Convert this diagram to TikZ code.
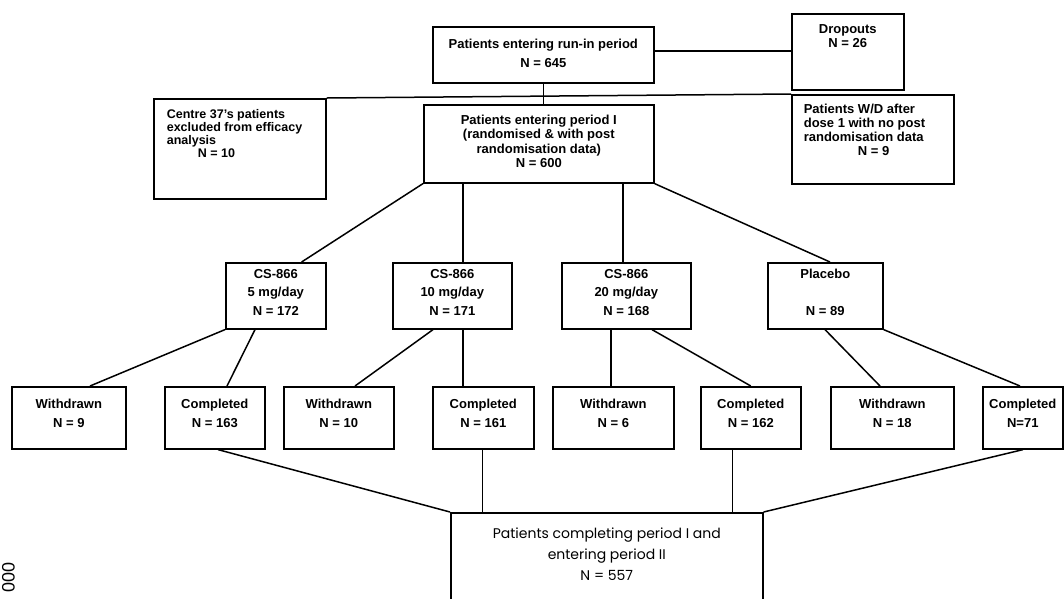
\documentclass[tikz,border=0pt]{standalone}
\usepackage{fontspec}
\setmainfont{Liberation Sans}
\newfontfamily\geofont{Poppins}

% fixed-size box text: width, height, top gap, line skip, text
\newcommand{\boxtext}[5]{\parbox[c][#2pt][t]{#1pt}{\centering\fontsize{13}{#4pt}\selectfont\bfseries\vspace*{#3pt}#5\par}}

\begin{document}
\begin{tikzpicture}[x=1pt, y=-1pt,
  box/.style={draw, line width=1.6pt, inner sep=0pt, anchor=north west},
  link/.style={line width=1.5pt},
  thinlink/.style={line width=0.9pt}]
\useasboundingbox (0,0) rectangle (1064,598);

% run-in and period I
\node[box] (run) at (432,26) {\boxtext{221}{56}{12.2}{19}{Patients entering run-in period\\N = 645}};
\node[box] (drop) at (791,13) {\boxtext{112}{76}{11.2}{14}{Dropouts\\N = 26}};
\node[box] (centre) at (153,98) {\boxtext{172}{100}{10.4}{13}{\fontsize{12.5}{13}\selectfont\raggedright\leftskip=13pt\relax Centre 37's patients\\excluded from efficacy\\analysis\\\hspace*{31pt}N = 10}};
\node[box] (period) at (423,104) {\boxtext{230}{78}{10.2}{14.3}{Patients entering period I\\(randomised \& with post\\randomisation data)\\N = 600}};
\node[box] (wd) at (791,94) {\boxtext{162}{89}{9.2}{14}{\raggedright\leftskip=12pt\relax Patients W/D after\\dose 1 with no post\\randomisation data\\\hspace*{54pt}N = 9}};

% treatment arms
\node[box] (d5) at (225,262) {\boxtext{100}{66}{6.2}{18.5}{CS-866\\5 mg/day\\N = 172}};
\node[box] (d10) at (392,262) {\boxtext{119}{66}{6.2}{18.5}{CS-866\\10 mg/day\\N = 171}};
\node[box] (d20) at (561,262) {\boxtext{129}{66}{6.2}{18.5}{CS-866\\20 mg/day\\N = 168}};
\node[box] (plac) at (767,262) {\boxtext{115}{66}{6.2}{18.5}{Placebo\\\mbox{}\\N = 89}};

% outcome of period I
\node[box] (w1) at (11,386) {\boxtext{114}{62}{12.2}{19}{Withdrawn\\N = 9}};
\node[box] (c1) at (164,386) {\boxtext{100}{62}{12.2}{19}{Completed\\N = 163}};
\node[box] (w2) at (283,386) {\boxtext{110}{62}{12.2}{19}{Withdrawn\\N = 10}};
\node[box] (c2) at (432,386) {\boxtext{101}{62}{12.2}{19}{Completed\\N = 161}};
\node[box] (w3) at (552,386) {\boxtext{121}{62}{12.2}{19}{Withdrawn\\N = 6}};
\node[box] (c3) at (700,386) {\boxtext{100}{62}{12.2}{19}{Completed\\N = 162}};
\node[box] (w4) at (830,386) {\boxtext{123}{62}{12.2}{19}{Withdrawn\\N = 18}};
\node[box] (c4) at (982,386) {\boxtext{80}{62}{12.2}{19}{Completed\\N=71}};

\node[box] (bot) at (450,512) {\boxtext{312}{110}{14.6}{21}{\geofont\mdseries\fontsize{14}{21}\selectfont Patients completing period I and\\entering period II\\N = 557}};

\node[rotate=90, font=\fontsize{18}{18}\selectfont] (docno) at (8.5,577) {000};

% connectors, top part
\coordinate (runout) at ([yshift=4pt]run.east);
\draw[link] (runout) -- (runout -| drop.west);
\draw[link] (run.south) -- (run.south |- period.north);
\draw[link] (centre.north east) -- (wd.north west);

% period I to arms
\coordinate (p10) at ([xshift=40pt]period.south west);
\coordinate (p20) at ([xshift=200pt]period.south west);
\draw[link] (period.south west) -- ([xshift=-25pt]d5.north east);
\draw[link] (p10) -- (p10 |- d10.north);
\draw[link] (p20) -- (p20 |- d20.north);
\draw[link] (period.south east) -- ([xshift=63pt]plac.north west);

% arms to outcomes
\coordinate (d10c) at ([xshift=71pt]d10.south west);
\coordinate (d20w) at ([xshift=50pt]d20.south west);
\draw[link] (d5.south west) -- ([xshift=79pt]w1.north west);
\draw[link] ([xshift=30pt]d5.south west) -- ([xshift=63pt]c1.north west);
\draw[link] ([xshift=41pt]d10.south west) -- ([xshift=72pt]w2.north west);
\draw[link] (d10c) -- (d10c |- c2.north);
\draw[link] (d20w) -- (d20w |- w3.north);
\draw[link] ([xshift=91pt]d20.south west) -- (c3.north);
\draw[link] ([xshift=58pt]plac.south west) -- ([xshift=50pt]w4.north west);
\draw[link] (plac.south east) -- ([xshift=38pt]c4.north west);

% completers into period II
\coordinate (c2b) at ([xshift=50pt]c2.south west);
\coordinate (c3b) at ([xshift=32pt]c3.south west);
\draw[link] ([xshift=54pt]c1.south west) -- (bot.north west);
\draw[thinlink] (c2b) -- (c2b |- bot.north);
\draw[thinlink] (c3b) -- (c3b |- bot.north);
\draw[link] ([xshift=41pt]c4.south west) -- (bot.north east);
\end{tikzpicture}
\end{document}
